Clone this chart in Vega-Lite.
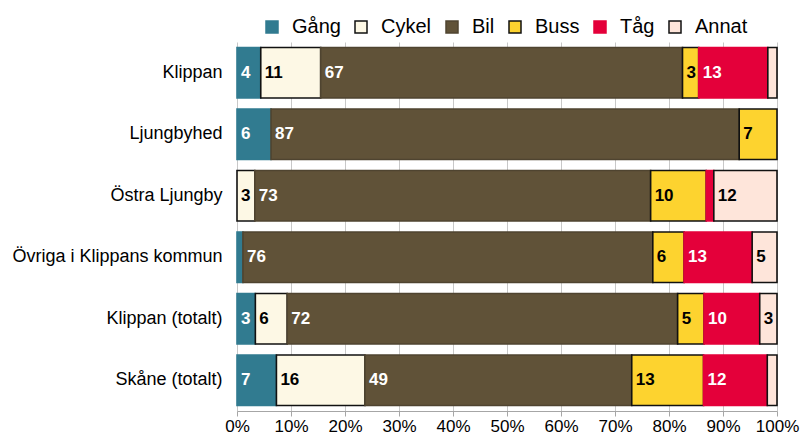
{
  "$schema": "https://vega.github.io/schema/vega-lite/v6.json",
  "autosize": {"type": "none"},
  "width": 540,
  "height": 369,
  "padding": {"left": 237, "top": 42, "right": 26, "bottom": 26},
  "background": "white",
  "config": {
    "font": "Liberation Sans",
    "view": {"stroke": null},
    "axis": {"labelFont": "Liberation Sans", "labelColor": "black", "title": null}
  },
  "data": {
    "values": [
      {"place": "Klippan", "mode": "Gång", "value": 4.4},
      {"place": "Klippan", "mode": "Cykel", "value": 11.1},
      {"place": "Klippan", "mode": "Bil", "value": 67.0},
      {"place": "Klippan", "mode": "Buss", "value": 3.0},
      {"place": "Klippan", "mode": "Tåg", "value": 12.8},
      {"place": "Klippan", "mode": "Annat", "value": 1.7},
      {"place": "Ljungbyhed", "mode": "Gång", "value": 6.3},
      {"place": "Ljungbyhed", "mode": "Bil", "value": 86.7},
      {"place": "Ljungbyhed", "mode": "Buss", "value": 7.0},
      {"place": "Östra Ljungby", "mode": "Cykel", "value": 3.3},
      {"place": "Östra Ljungby", "mode": "Bil", "value": 73.3},
      {"place": "Östra Ljungby", "mode": "Buss", "value": 10.3},
      {"place": "Östra Ljungby", "mode": "Tåg", "value": 1.4},
      {"place": "Östra Ljungby", "mode": "Annat", "value": 11.7},
      {"place": "Övriga i Klippans kommun", "mode": "Gång", "value": 1.1},
      {"place": "Övriga i Klippans kommun", "mode": "Bil", "value": 75.9},
      {"place": "Övriga i Klippans kommun", "mode": "Buss", "value": 5.8},
      {"place": "Övriga i Klippans kommun", "mode": "Tåg", "value": 12.6},
      {"place": "Övriga i Klippans kommun", "mode": "Annat", "value": 4.6},
      {"place": "Klippan (totalt)", "mode": "Gång", "value": 3.4},
      {"place": "Klippan (totalt)", "mode": "Cykel", "value": 5.9},
      {"place": "Klippan (totalt)", "mode": "Bil", "value": 72.3},
      {"place": "Klippan (totalt)", "mode": "Buss", "value": 4.9},
      {"place": "Klippan (totalt)", "mode": "Tåg", "value": 10.3},
      {"place": "Klippan (totalt)", "mode": "Annat", "value": 3.2},
      {"place": "Skåne (totalt)", "mode": "Gång", "value": 7.3},
      {"place": "Skåne (totalt)", "mode": "Cykel", "value": 16.4},
      {"place": "Skåne (totalt)", "mode": "Bil", "value": 49.4},
      {"place": "Skåne (totalt)", "mode": "Buss", "value": 13.3},
      {"place": "Skåne (totalt)", "mode": "Tåg", "value": 11.8},
      {"place": "Skåne (totalt)", "mode": "Annat", "value": 1.8}
    ]
  },
  "transform": [
    {"calculate": "indexof(['Gång','Cykel','Bil','Buss','Tåg','Annat'], datum.mode)", "as": "ord"},
    {"stack": "value", "groupby": ["place"], "sort": [{"field": "ord", "order": "ascending"}], "as": ["x0", "x1"]}
  ],
  "encoding": {
    "y": {
      "field": "place",
      "type": "nominal",
      "sort": ["Klippan", "Ljungbyhed", "Östra Ljungby", "Övriga i Klippans kommun", "Klippan (totalt)", "Skåne (totalt)"],
      "scale": {"paddingInner": 0.18, "paddingOuter": 0.09},
      "axis": {"domain": false, "ticks": false, "labelFontSize": 18, "labelPadding": 15, "labelLimit": 400, "title": null}
    }
  },
  "layer": [
    {
      "mark": {"type": "bar", "strokeWidth": 1.6},
      "encoding": {
        "x": {
          "field": "x0",
          "type": "quantitative",
          "scale": {"domain": [0, 100], "nice": false},
          "axis": {
            "values": [0, 10, 20, 30, 40, 50, 60, 70, 80, 90, 100],
            "labelExpr": "datum.value + '%'",
            "labelFontSize": 17,
            "labelPadding": 2,
            "domainColor": "#a6a6a6",
            "tickColor": "#a6a6a6",
            "tickSize": 5,
            "gridColor": "#c8c8c8",
            "labelFlush": false,
            "title": null
          }
        },
        "x2": {"field": "x1"},
        "fill": {
          "field": "mode",
          "type": "nominal",
          "sort": ["Gång", "Cykel", "Bil", "Buss", "Tåg", "Annat"],
          "scale": {
            "domain": ["Gång", "Cykel", "Bil", "Buss", "Tåg", "Annat"],
            "range": ["#317b90", "#fdf8e5", "#605238", "#fdd32f", "#e4003a", "#fee5da"]
          },
          "legend": {
            "title": null,
            "orient": "none",
            "direction": "horizontal",
            "legendX": 25,
            "legendY": -25,
            "symbolType": "square",
            "symbolSize": 144,
            "symbolStrokeWidth": 1.5,
            "labelFontSize": 20,
            "labelFont": "Liberation Sans",
            "labelColor": "black",
            "labelOffset": 10,
            "columnPadding": 10
          }
        },
        "stroke": {
          "field": "mode",
          "type": "nominal",
          "sort": ["Gång", "Cykel", "Bil", "Buss", "Tåg", "Annat"],
          "scale": {
            "domain": ["Gång", "Cykel", "Bil", "Buss", "Tåg", "Annat"],
            "range": ["#317b90", "#111111", "#4f4430", "#111111", "#e4003a", "#111111"]
          },
          "legend": {
            "title": null,
            "orient": "none",
            "direction": "horizontal",
            "legendX": 25,
            "legendY": -25,
            "symbolType": "square",
            "symbolSize": 144,
            "symbolStrokeWidth": 1.5,
            "labelFontSize": 20,
            "labelFont": "Liberation Sans",
            "labelColor": "black",
            "labelOffset": 10,
            "columnPadding": 10
          }
        }
      }
    },
    {
      "transform": [{"filter": "datum.value >= 2.5"}],
      "mark": {"type": "text", "align": "left", "baseline": "middle", "dx": 4, "fontSize": 17, "fontWeight": "bold", "font": "Liberation Sans"},
      "encoding": {
        "x": {"field": "x0", "type": "quantitative"},
        "text": {"field": "value", "type": "quantitative", "format": ".0f"},
        "color": {
          "condition": {"test": "indexof(['Cykel','Buss','Annat'], datum.mode) >= 0", "value": "black"},
          "value": "white"
        }
      }
    }
  ]
}
